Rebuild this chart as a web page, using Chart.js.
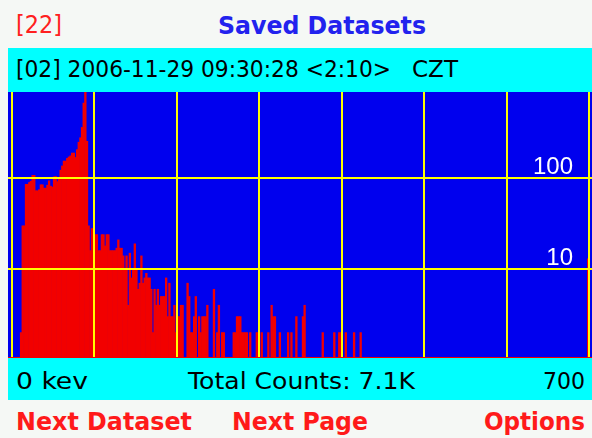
<!DOCTYPE html>
<html>
<head>
<meta charset="utf-8">
<script src="https://cdn.jsdelivr.net/npm/chart.js@4.4.1/dist/chart.umd.min.js"></script>
<style>
  body { margin: 0; width: 592px; height: 438px; background: #f5f8f5; position: relative; overflow: hidden; font-family: "DejaVu Sans", sans-serif; }
  .band { position: absolute; left: 8px; width: 584px; background: #00ffff; }
  #plot { position: absolute; left: 8px; top: 92px; width: 584px; height: 266px; background: #0000ee; }
  .lbl { position: absolute; white-space: pre; transform-origin: 0 0; line-height: 1; }
</style>
</head>
<body>
<div class="band" style="top:48px;height:44px"></div>
<div class="band" style="top:358px;height:42px"></div>
<div id="plot"><canvas id="spectrum" width="584" height="266"></canvas></div>

<script>
// spectrum: 350 channels, 2 keV each (0 - 700 keV)
const KEV_PER_CHANNEL = 2;
const counts = [
  0,0,0,0,0,2,30,30,86,86,90,93,108,108,73,73,75,85,85,78,78,84,94,82,80,
  104,105,92,102,123,137,155,155,166,172,177,190,190,170,207,250,280,364,676,950,256,30,16,28,28,
  24,24,16,16,24,24,18,24,24,16,16,16,16,17,21,17,17,14,10,14,4,15,8,10,19,
  10,6,7,14,7,8,9,8,8,6,2,6,4,6,4,5,5,5,8,3,7,3,3,4,2,
  3,3,4,4,0,0,7,5,2,2,3,5,0,3,2,3,3,3,4,0,0,0,6,0,2,
  4,0,2,2,0,0,0,0,0,2,2,3,3,3,2,2,2,2,0,2,0,0,0,2,2,
  0,2,0,0,0,2,0,4,3,3,0,0,2,0,0,0,0,2,0,2,0,0,3,0,0,
  0,3,4,0,0,0,0,0,0,0,0,0,0,2,0,0,0,0,0,0,2,0,0,2,2,
  0,0,2,0,0,0,0,2,0,0,0,2,0,0,0,0,0,0,0,0,0,0,0,0,0,
  0,0,0,0,0,0,0,0,0,0,0,0,0,0,0,0,0,0,0,0,0,0,0,0,0,
  0,0,0,0,0,0,0,0,0,0,0,0,0,0,0,0,0,0,0,0,0,0,0,0,0,
  0,0,0,0,0,0,0,0,0,0,0,0,0,0,0,0,0,0,0,0,0,0,0,0,0,
  0,0,0,0,0,0,0,0,0,0,0,0,0,0,0,0,0,0,0,0,0,0,0,0,0,
  0,0,0,0,0,0,0,0,0,0,0,0,0,0,0,0,0,0,0,0,0,0,0,0,13
];
const keVTicks = [0, 100, 200, 300, 400, 500, 600, 700];
const countTicks = [10, 100];

// screen texts: text, left, centre y, width, font size, weight, colour
const screenTexts = [
  ['[22]', 16, 25, 46, 24, 400, '#ff2020'],
  ['Saved Datasets', 218, 25.5, 208, 24, 700, '#2222ee'],
  ['[02] 2006-11-29 09:30:28 <2:10>', 16, 69.5, 375, 23, 400, '#000'],
  ['CZT', 412, 69.5, 46, 23, 400, '#000'],
  ['0 kev', 16, 381, 72, 23, 400, '#000'],
  ['Total Counts: 7.1K', 188, 381, 227, 23, 400, '#000'],
  ['700', 543, 381, 42, 23, 400, '#000'],
  ['Next Dataset', 16, 421.5, 176, 24, 700, '#ff1a1a'],
  ['Next Page', 232, 421.5, 136, 24, 700, '#ff1a1a'],
  ['Options', 484, 421.5, 101, 24, 700, '#ff1a1a']
];

screenTexts.forEach(([text, x, cy, w, size, weight, color]) => {
  const el = document.createElement('div');
  el.className = 'lbl';
  el.textContent = text;
  el.style.left = x + 'px';
  el.style.top = (cy - size * 0.48) + 'px';
  el.style.fontSize = size + 'px';
  el.style.fontWeight = weight;
  el.style.color = color;
  document.body.appendChild(el);
  const natural = el.getBoundingClientRect().width;
  el.style.transform = 'scaleX(' + (w / natural) + ')';
});

const YELLOW = '#ffff00';
const RED = '#f20000';

new Chart(document.getElementById('spectrum'), {
  type: 'bar',
  data: {
    labels: counts.map((_, i) => i * KEV_PER_CHANNEL + KEV_PER_CHANNEL / 2),
    datasets: [{
      data: counts,
      backgroundColor: RED,
      borderWidth: 0,
      barPercentage: 1,
      categoryPercentage: 1
    }]
  },
  options: {
    responsive: false,
    animation: false,
    devicePixelRatio: 1,
    layout: { padding: 0 },
    plugins: { legend: { display: false }, tooltip: { enabled: false } },
    scales: {
      x: {
        type: 'linear',
        min: -4.85,
        max: 703.64,
        offset: false,
        afterBuildTicks: s => { s.ticks = keVTicks.map(v => ({ value: v })); },
        ticks: { display: false },
        grid: { color: YELLOW, lineWidth: 2, drawTicks: false, offset: false, z: 1 },
        border: { display: true, color: RED, width: 3, z: 1 }
      },
      y: {
        type: 'logarithmic',
        position: 'right',
        min: 1.05,
        max: 894,
        beginAtZero: false,
        afterBuildTicks: s => { s.ticks = countTicks.map(v => ({ value: v })); },
        afterFit: s => { s.width = 0; s.paddingTop = 0; s.paddingBottom = 0; },
        ticks: {
          mirror: true,
          padding: -19,
          labelOffset: -11,
          color: '#ffffff',
          font: { family: '"Liberation Sans", sans-serif', size: 24 },
          callback: v => String(v),
          z: 2
        },
        grid: { color: YELLOW, lineWidth: 2, drawTicks: false, z: 1 },
        border: { display: false }
      }
    }
  }
});
</script>
</body>
</html>
